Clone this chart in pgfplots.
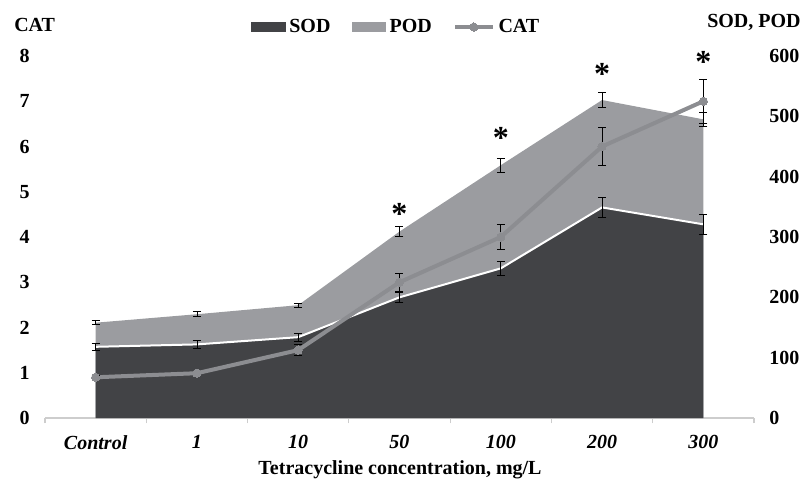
\documentclass[border=0pt]{standalone}
\usepackage{fontspec}
\setmainfont{Liberation Serif}
\usepackage{pgfplots}
\pgfplotsset{compat=1.18}
\definecolor{soddark}{RGB}{66,67,70}
\definecolor{podgray}{RGB}{155,156,160}
\definecolor{catgray}{RGB}{140,141,145}
\definecolor{axisgray}{RGB}{205,205,205}
\newcommand{\ff}{\fontsize{15}{18}\selectfont\bfseries}
\pgfplotsset{catlegend/.style={legend image code/.code={\draw[mark repeat=2,mark phase=2,##1] plot coordinates {(0pt,0pt)(14pt,0pt)(28pt,0pt)};}}}
\begin{document}
\begin{tikzpicture}
\path[use as bounding box] (0,0) rectangle (600pt,360pt);
\begin{axis}[
  at={(33.75pt,46.5pt)}, anchor=south west, scale only axis,
  width=531.75pt, height=271.5pt,
  xmin=-0.5, xmax=6.5, ymin=0, ymax=600,
  axis x line*=bottom, axis y line*=right,
  x axis line style={draw=axisgray, line width=0.8pt, -},
  y axis line style={draw=none},
  xtick={0,...,6}, xticklabels={Control,1,10,50,100,200,300},
  minor xtick={-0.5,0.5,...,6.5},
  major tick length=0pt, minor tick length=4pt, tick align=outside,
  minor tick style={draw=axisgray, line width=0.8pt},
  ytick={0,100,...,600},
  /pgf/number format/assume math mode=true,
  xticklabel style={font=\ff\itshape, yshift=-9.5pt},
  yticklabel style={font=\ff, anchor=west, xshift=8pt},
  xlabel={Tetracycline concentration, mg/L},
  xlabel style={font=\ff, at={(axis description cs:0.5007,-0.142)}, anchor=center},
  clip=false,
]
\addplot[fill=podgray, draw=none, forget plot] coordinates {(0,158)(1,172)(2,187)(3,309)(4,419)(5,527)(6,495)} \closedcycle;
\addplot[fill=soddark, draw=none, forget plot] coordinates {(0,118)(1,122)(2,134)(3,200)(4,248)(5,349)(6,321)} \closedcycle;
\addplot[white, line width=1.5pt, forget plot] coordinates {(0,118)(1,122)(2,134)(3,200)(4,248)(5,349)(6,321)};
\addplot[draw=none, mark=none, forget plot,
  error bars/.cd, y dir=both, y explicit,
  error bar style={draw=black, solid, line width=0.6pt},
  error mark options={draw=black, rotate=90, mark size=3pt, line width=0.6pt}]
  coordinates {(0,118)+-(0,6) (1,122)+-(0,6.5) (2,134)+-(0,7) (3,200)+-(0,8) (4,248)+-(0,12) (5,349)+-(0,17) (6,321)+-(0,16)};
\addplot[draw=none, mark=none, forget plot,
  error bars/.cd, y dir=both, y explicit,
  error bar style={draw=black, solid, line width=0.6pt},
  error mark options={draw=black, rotate=90, mark size=3pt, line width=0.6pt}]
  coordinates {(0,158)+-(0,3) (1,172)+-(0,4) (2,187)+-(0,3) (3,309)+-(0,8) (4,419)+-(0,12) (5,527)+-(0,12) (6,495)+-(0,12)};
\addplot[draw=none, mark=none, forget plot, nodes near coords={*},
  nodes near coords style={anchor=center, yshift=-3.2pt, font=\fontsize{24}{24}\selectfont\bfseries}]
  coordinates {(3,345)(4,472)(5,577)(6,598)};
\node[font=\ff, anchor=west, inner sep=0pt] at (rel axis cs:0.9337,1.094) {SOD, POD};
\end{axis}
\begin{axis}[
  at={(33.75pt,46.5pt)}, anchor=south west, scale only axis,
  width=531.75pt, height=271.5pt,
  xmin=-0.5, xmax=6.5, ymin=0, ymax=8,
  axis x line=none, axis y line*=left,
  y axis line style={draw=none},
  ytick={0,...,8}, major tick length=0pt,
  /pgf/number format/assume math mode=true,
  yticklabel style={font=\ff, anchor=east, xshift=-8pt},
  ylabel={CAT},
  ylabel style={font=\ff, rotate=-90, at={(axis description cs:-0.05,1.0856)}, anchor=west},
  legend columns=3,
  legend style={draw=none, fill=none, font=\ff, at={(0.497,1.08)}, anchor=center,
    /tikz/every even column/.append style={column sep=13pt},
    /tikz/every odd column/.append style={column sep=0pt},
    nodes={inner xsep=3pt}},
  clip=false,
]
\addlegendimage{legend image code/.code={\fill[soddark] (0pt,-3.25pt) rectangle (25pt,3.25pt);}}
\addlegendentry{SOD}
\addlegendimage{legend image code/.code={\fill[podgray] (0pt,-3.25pt) rectangle (25pt,3.25pt);}}
\addlegendentry{POD}
\addplot[catgray, line width=3pt, mark=*, mark size=3.1pt, mark options={fill=catgray, draw=catgray, line width=0pt},
  catlegend,
  error bars/.cd, y dir=both, y explicit,
  error bar style={draw=black, solid, line width=0.6pt},
  error mark options={draw=black, rotate=90, mark size=3pt, line width=0.6pt}]
  coordinates {(0,0.90)+-(0,0.05) (1,0.99)+-(0,0.05) (2,1.50)+-(0,0.12) (3,3.0)+-(0,0.2) (4,4.0)+-(0,0.28) (5,6.0)+-(0,0.42) (6,7.0)+-(0,0.48)};
\addlegendentry{CAT}
\end{axis}
\end{tikzpicture}
\end{document}
